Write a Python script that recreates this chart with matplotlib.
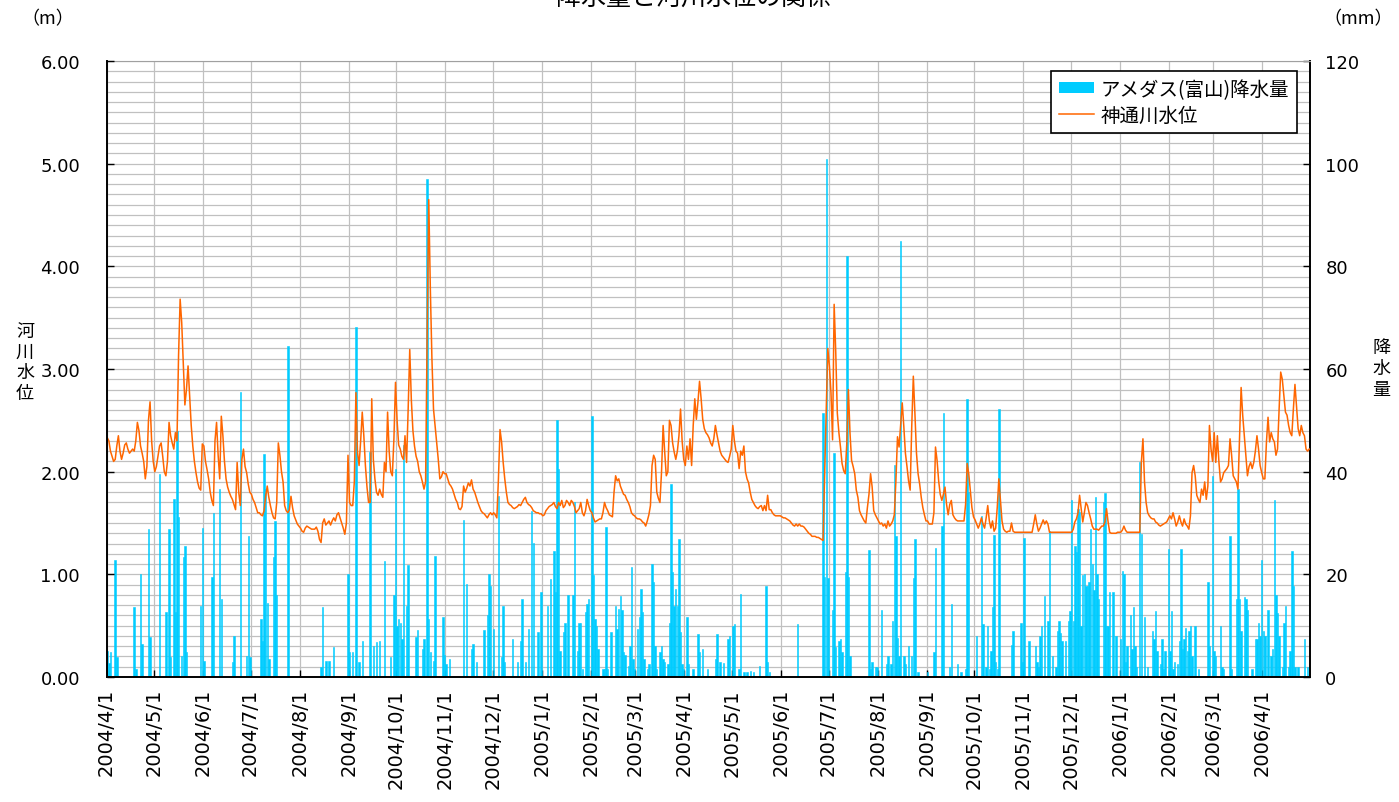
import numpy as np
import pandas as pd
import matplotlib
matplotlib.use('Agg')
import matplotlib.pyplot as plt
import matplotlib.dates as mdates
from matplotlib.patches import Patch
from matplotlib.lines import Line2D
from matplotlib.ticker import MultipleLocator

plt.rcParams['font.family'] = ['Noto Sans CJK JP', 'DejaVu Sans']

TITLE = '降水量と河川水位の関係'
RAIN_LABEL = 'アメダス(富山)降水量'
LEVEL_LABEL = '神通川水位'

START, END = '2004-04-01', '2006-04-30'

# daily water level of the Jinzu river (m), one line per month
level_2004 = [
    2.33, 2.30, 2.20, 2.15, 2.10, 2.12, 2.25, 2.35, 2.20, 2.12, 2.18, 2.26, 2.28, 2.22, 2.18, 2.20, 2.22, 2.20, 2.30, 2.48, 2.40, 2.25, 2.18, 2.10, 1.93, 2.05, 2.50, 2.68, 2.30, 2.10,
    2.00, 2.05, 2.15, 2.25, 2.28, 2.15, 2.00, 1.96, 2.10, 2.48, 2.35, 2.28, 2.22, 2.38, 2.30, 3.13, 3.68, 3.45, 3.06, 2.65, 2.80, 3.03, 2.74, 2.45, 2.25, 2.10, 1.99, 1.90, 1.84, 1.82, 2.27,
    2.25, 2.10, 2.02, 1.93, 1.80, 1.72, 1.67, 2.30, 2.48, 2.16, 1.93, 2.54, 2.35, 2.10, 1.93, 1.85, 1.80, 1.76, 1.73, 1.68, 1.63, 2.09, 1.80, 1.67, 2.12, 2.22, 2.05, 1.99, 1.88, 1.80,
    1.78, 1.73, 1.70, 1.65, 1.60, 1.60, 1.58, 1.57, 1.62, 1.76, 1.86, 1.75, 1.67, 1.60, 1.55, 1.54, 1.70, 2.28, 2.16, 2.00, 1.90, 1.67, 1.62, 1.60, 1.63, 1.76, 1.65, 1.57, 1.53, 1.49, 1.47,
    1.45, 1.42, 1.41, 1.45, 1.47, 1.46, 1.45, 1.44, 1.44, 1.44, 1.46, 1.42, 1.34, 1.31, 1.50, 1.54, 1.48, 1.50, 1.52, 1.48, 1.52, 1.55, 1.52, 1.58, 1.60, 1.55, 1.50, 1.45, 1.39, 1.50, 2.16,
    1.70, 1.67, 1.67, 1.90, 2.77, 2.19, 2.06, 2.30, 2.58, 2.35, 2.06, 1.85, 1.70, 1.70, 2.71, 2.12, 1.93, 1.80, 1.77, 1.83, 1.78, 1.75, 2.09, 2.00, 2.58, 2.20, 2.00, 1.96, 2.32, 2.87,
    2.50, 2.26, 2.22, 2.15, 2.12, 2.35, 2.09, 2.61, 3.19, 2.70, 2.40, 2.25, 2.15, 2.10, 2.00, 1.96, 1.90, 1.83, 1.90, 3.36, 4.65, 3.78, 3.10, 2.61, 2.45, 2.29, 2.12, 1.93, 1.95, 2.00, 1.98,
    1.98, 1.93, 1.88, 1.86, 1.83, 1.78, 1.73, 1.70, 1.64, 1.63, 1.66, 1.86, 1.80, 1.84, 1.89, 1.86, 1.92, 1.83, 1.80, 1.75, 1.70, 1.66, 1.62, 1.60, 1.59, 1.57, 1.55, 1.58, 1.60, 1.58,
    1.60, 1.58, 1.55, 1.93, 2.41, 2.29, 2.09, 1.93, 1.80, 1.70, 1.68, 1.67, 1.65, 1.64, 1.65, 1.66, 1.68, 1.67, 1.70, 1.73, 1.75, 1.70, 1.68, 1.67, 1.65, 1.62, 1.61, 1.60, 1.60, 1.59, 1.59,
]
level_2005 = [
    1.57, 1.58, 1.62, 1.64, 1.66, 1.67, 1.68, 1.70, 1.66, 1.64, 1.70, 1.67, 1.72, 1.65, 1.67, 1.72, 1.70, 1.67, 1.72, 1.70, 1.66, 1.60, 1.62, 1.64, 1.70, 1.60, 1.57, 1.62, 1.73, 1.67, 1.62,
    1.60, 1.55, 1.51, 1.52, 1.53, 1.54, 1.54, 1.60, 1.70, 1.65, 1.62, 1.58, 1.57, 1.56, 1.80, 1.96, 1.91, 1.93, 1.86, 1.82, 1.78, 1.77, 1.73, 1.70, 1.66, 1.60, 1.58, 1.57,
    1.55, 1.54, 1.54, 1.53, 1.51, 1.50, 1.47, 1.52, 1.58, 1.67, 2.06, 2.16, 2.12, 1.80, 1.74, 1.70, 2.00, 2.45, 2.19, 1.96, 2.00, 2.50, 2.45, 2.28, 2.19, 2.12, 2.20, 2.35, 2.61, 2.30, 2.12,
    2.06, 2.25, 2.12, 2.32, 2.06, 2.45, 2.71, 2.51, 2.68, 2.88, 2.71, 2.51, 2.42, 2.38, 2.36, 2.33, 2.28, 2.25, 2.32, 2.45, 2.36, 2.28, 2.20, 2.16, 2.14, 2.12, 2.10, 2.09, 2.15, 2.22,
    2.45, 2.30, 2.20, 2.18, 2.03, 2.20, 2.16, 2.25, 2.00, 1.93, 1.89, 1.80, 1.73, 1.70, 1.67, 1.65, 1.64, 1.66, 1.67, 1.62, 1.67, 1.62, 1.77, 1.63, 1.63, 1.60, 1.58, 1.57, 1.57, 1.57, 1.57,
    1.56, 1.55, 1.55, 1.54, 1.53, 1.52, 1.50, 1.48, 1.47, 1.49, 1.47, 1.49, 1.47, 1.47, 1.46, 1.44, 1.42, 1.40, 1.39, 1.37, 1.37, 1.37, 1.36, 1.36, 1.35, 1.34, 1.33, 1.97, 2.60, 3.20,
    3.03, 2.77, 2.31, 3.63, 3.17, 2.57, 2.38, 2.24, 2.08, 2.01, 1.98, 2.28, 2.80, 2.38, 2.11, 2.05, 1.98, 1.82, 1.75, 1.62, 1.58, 1.55, 1.52, 1.50, 1.65, 1.78, 1.98, 1.85, 1.62, 1.58, 1.55,
    1.52, 1.49, 1.50, 1.47, 1.49, 1.45, 1.52, 1.47, 1.49, 1.52, 1.58, 1.91, 2.34, 2.24, 2.45, 2.67, 2.44, 2.18, 2.05, 1.91, 1.82, 2.44, 2.93, 2.57, 2.18, 1.98, 1.88, 1.75, 1.65, 1.58, 1.52,
    1.52, 1.49, 1.49, 1.49, 1.60, 2.24, 2.11, 1.91, 1.78, 1.72, 1.78, 1.85, 1.68, 1.58, 1.68, 1.72, 1.58, 1.55, 1.53, 1.52, 1.52, 1.52, 1.52, 1.52, 1.68, 2.08, 1.98, 1.82, 1.65, 1.56,
    1.53, 1.49, 1.45, 1.49, 1.55, 1.49, 1.45, 1.55, 1.67, 1.52, 1.45, 1.52, 1.42, 1.45, 1.65, 1.93, 1.72, 1.52, 1.44, 1.42, 1.41, 1.42, 1.42, 1.50, 1.42, 1.41, 1.41, 1.41, 1.41, 1.41, 1.41,
    1.41, 1.41, 1.41, 1.41, 1.41, 1.41, 1.49, 1.58, 1.49, 1.42, 1.45, 1.49, 1.53, 1.49, 1.52, 1.49, 1.41, 1.41, 1.41, 1.41, 1.41, 1.41, 1.41, 1.41, 1.41, 1.41, 1.41, 1.41, 1.41, 1.41,
    1.41, 1.44, 1.51, 1.54, 1.60, 1.77, 1.64, 1.51, 1.60, 1.70, 1.67, 1.60, 1.54, 1.47, 1.44, 1.44, 1.44, 1.43, 1.45, 1.47, 1.47, 1.51, 1.64, 1.51, 1.41, 1.40, 1.40, 1.40, 1.40, 1.41, 1.41,
]
level_2006 = [
    1.41, 1.43, 1.47, 1.43, 1.41, 1.41, 1.41, 1.41, 1.41, 1.41, 1.41, 1.41, 1.41, 2.09, 2.32, 1.90, 1.70, 1.60, 1.57, 1.55, 1.54, 1.54, 1.51, 1.50, 1.48, 1.47, 1.48, 1.49, 1.50, 1.51, 1.54,
    1.57, 1.54, 1.60, 1.54, 1.47, 1.51, 1.57, 1.51, 1.47, 1.54, 1.49, 1.47, 1.44, 1.57, 1.99, 2.06, 1.96, 1.77, 1.73, 1.70, 1.83, 1.77, 1.90, 1.73, 1.86, 2.45, 2.22, 2.10,
    2.38, 2.09, 2.35, 2.09, 1.90, 1.93, 1.99, 2.01, 2.03, 2.06, 2.32, 2.16, 1.96, 1.93, 1.90, 1.83, 2.32, 2.82, 2.55, 2.35, 2.16, 1.96, 2.05, 2.09, 2.03, 2.09, 2.20, 2.35, 2.22, 2.06, 1.99,
    1.93, 1.93, 2.29, 2.53, 2.29, 2.38, 2.32, 2.29, 2.16, 2.22, 2.61, 2.97, 2.90, 2.74, 2.58, 2.55, 2.45, 2.38, 2.35, 2.61, 2.85, 2.64, 2.42, 2.35, 2.45, 2.38, 2.35, 2.22, 2.20, 2.22,
]

# daily precipitation at AMeDAS Toyama (mm), rainy days only
rain_2004 = [
    ('2004-04-01', 5.1), ('2004-04-02', 2.8), ('2004-04-03', 4.8), ('2004-04-06', 22.7), ('2004-04-07', 3.8),
    ('2004-04-18', 13.6), ('2004-04-19', 1.6), ('2004-04-22', 20.1), ('2004-04-23', 6.4), ('2004-04-27', 28.8), ('2004-04-28', 7.7),
    ('2004-05-04', 39.5), ('2004-05-08', 12.6), ('2004-05-10', 28.8), ('2004-05-11', 3.8), ('2004-05-13', 34.7), ('2004-05-14', 12.6),
    ('2004-05-15', 48.0), ('2004-05-16', 31.1), ('2004-05-18', 4.1), ('2004-05-19', 23.3), ('2004-05-20', 25.6), ('2004-05-21', 4.8),
    ('2004-05-30', 13.9), ('2004-05-31', 29.1),
    ('2004-06-01', 3.2), ('2004-06-06', 19.4), ('2004-06-07', 32.0), ('2004-06-11', 36.6), ('2004-06-12', 15.2), ('2004-06-19', 3.0),
    ('2004-06-20', 8.0), ('2004-06-24', 55.6), ('2004-06-28', 4.1), ('2004-06-29', 27.5), ('2004-06-30', 3.8),
    ('2004-07-07', 11.3), ('2004-07-08', 7.1), ('2004-07-09', 43.4), ('2004-07-10', 36.6), ('2004-07-11', 14.5), ('2004-07-12', 3.5),
    ('2004-07-15', 23.3), ('2004-07-16', 30.4), ('2004-07-17', 15.9), ('2004-07-24', 64.5),
    ('2004-08-14', 1.9), ('2004-08-15', 13.6), ('2004-08-17', 3.2), ('2004-08-19', 3.2), ('2004-08-22', 5.8), ('2004-08-31', 20.1),
    ('2004-09-01', 4.8), ('2004-09-03', 4.8), ('2004-09-05', 68.1), ('2004-09-07', 2.9), ('2004-09-09', 7.1), ('2004-09-14', 43.8),
    ('2004-09-16', 6.1), ('2004-09-18', 6.8), ('2004-09-20', 7.1), ('2004-09-23', 22.6), ('2004-09-27', 3.8), ('2004-09-29', 15.9),
    ('2004-09-30', 40.5),
    ('2004-10-01', 10.0), ('2004-10-02', 11.3), ('2004-10-03', 10.6), ('2004-10-04', 7.4), ('2004-10-05', 45.1), ('2004-10-07', 13.9),
    ('2004-10-08', 21.8), ('2004-10-13', 7.8), ('2004-10-14', 9.1), ('2004-10-17', 5.5), ('2004-10-18', 7.4), ('2004-10-20', 97.0),
    ('2004-10-21', 11.3), ('2004-10-22', 4.8), ('2004-10-24', 3.2), ('2004-10-25', 23.6), ('2004-10-30', 11.6), ('2004-10-31', 4.2),
    ('2004-11-01', 2.6), ('2004-11-03', 3.5), ('2004-11-12', 30.5), ('2004-11-14', 18.2), ('2004-11-17', 5.5), ('2004-11-18', 6.5),
    ('2004-11-20', 3.0), ('2004-11-25', 9.1), ('2004-11-27', 12.0), ('2004-11-28', 20.1), ('2004-11-29', 17.8),
    ('2004-12-01', 9.4), ('2004-12-04', 35.3), ('2004-12-06', 3.9), ('2004-12-07', 13.9), ('2004-12-08', 3.0), ('2004-12-13', 7.4),
    ('2004-12-16', 3.0), ('2004-12-18', 7.1), ('2004-12-19', 15.2), ('2004-12-21', 3.0), ('2004-12-23', 9.4), ('2004-12-25', 32.4),
    ('2004-12-26', 26.2), ('2004-12-29', 8.7), ('2004-12-31', 16.5),
]
rain_2005 = [
    ('2005-01-04', 13.9), ('2005-01-06', 19.1), ('2005-01-08', 24.6), ('2005-01-09', 16.5), ('2005-01-10', 50.0), ('2005-01-11', 40.5),
    ('2005-01-12', 5.0), ('2005-01-14', 8.7), ('2005-01-15', 10.6), ('2005-01-17', 15.9), ('2005-01-20', 15.9), ('2005-01-21', 34.0),
    ('2005-01-23', 5.0), ('2005-01-24', 10.6), ('2005-01-25', 10.6), ('2005-01-26', 1.6), ('2005-01-28', 12.6), ('2005-01-29', 14.2),
    ('2005-01-30', 15.2),
    ('2005-02-01', 50.9), ('2005-02-02', 19.8), ('2005-02-03', 11.3), ('2005-02-04', 10.0), ('2005-02-05', 5.5), ('2005-02-08', 1.6),
    ('2005-02-09', 1.6), ('2005-02-10', 29.2), ('2005-02-11', 1.6), ('2005-02-13', 8.7), ('2005-02-16', 13.9), ('2005-02-17', 9.4),
    ('2005-02-18', 13.2), ('2005-02-19', 15.8), ('2005-02-20', 13.0), ('2005-02-21', 4.8), ('2005-02-22', 4.2), ('2005-02-24', 2.2),
    ('2005-02-25', 6.1), ('2005-02-26', 21.4), ('2005-02-27', 3.5), ('2005-02-28', 1.6),
    ('2005-03-02', 9.4), ('2005-03-03', 11.6), ('2005-03-04', 17.1), ('2005-03-05', 12.6), ('2005-03-06', 3.5), ('2005-03-08', 1.6),
    ('2005-03-09', 2.6), ('2005-03-11', 22.1), ('2005-03-12', 18.5), ('2005-03-13', 6.1), ('2005-03-14', 1.6), ('2005-03-16', 4.8),
    ('2005-03-17', 6.1), ('2005-03-18', 3.5), ('2005-03-19', 3.0), ('2005-03-21', 2.6), ('2005-03-22', 10.6), ('2005-03-23', 37.6),
    ('2005-03-24', 20.4), ('2005-03-25', 13.9), ('2005-03-26', 17.1), ('2005-03-27', 13.9), ('2005-03-28', 26.8), ('2005-03-29', 8.7),
    ('2005-03-30', 2.6), ('2005-03-31', 1.6),
    ('2005-04-02', 11.6), ('2005-04-03', 2.6), ('2005-04-06', 1.6), ('2005-04-09', 8.4), ('2005-04-10', 4.8), ('2005-04-12', 5.5),
    ('2005-04-15', 1.6), ('2005-04-20', 3.5), ('2005-04-21', 8.4), ('2005-04-23', 3.0), ('2005-04-25', 2.8), ('2005-04-28', 7.4),
    ('2005-04-29', 8.0),
    ('2005-05-01', 10.0), ('2005-05-02', 10.3), ('2005-05-05', 1.6), ('2005-05-06', 16.1), ('2005-05-08', 1.0), ('2005-05-10', 1.0),
    ('2005-05-12', 1.2), ('2005-05-14', 1.0), ('2005-05-18', 2.2), ('2005-05-22', 17.8), ('2005-05-23', 3.0), ('2005-05-24', 1.0),
    ('2005-06-11', 10.3), ('2005-06-27', 51.5), ('2005-06-28', 19.5), ('2005-06-29', 100.9), ('2005-06-30', 19.2),
    ('2005-07-03', 13.0), ('2005-07-04', 43.6), ('2005-07-05', 5.8), ('2005-07-07', 7.1), ('2005-07-08', 7.4), ('2005-07-09', 4.8),
    ('2005-07-11', 20.5), ('2005-07-12', 82.1), ('2005-07-13', 19.5), ('2005-07-14', 4.1), ('2005-07-26', 24.8), ('2005-07-27', 1.5),
    ('2005-07-28', 3.0), ('2005-07-30', 2.0), ('2005-07-31', 2.0),
    ('2005-08-03', 13.0), ('2005-08-06', 2.5), ('2005-08-07', 4.0), ('2005-08-09', 2.5), ('2005-08-10', 11.0), ('2005-08-11', 41.3),
    ('2005-08-12', 27.4), ('2005-08-13', 7.6), ('2005-08-14', 4.0), ('2005-08-15', 85.0), ('2005-08-17', 4.0), ('2005-08-18', 2.5),
    ('2005-08-20', 6.0), ('2005-08-22', 4.0), ('2005-08-23', 19.2), ('2005-08-24', 26.8), ('2005-08-26', 1.0),
    ('2005-09-01', 1.0), ('2005-09-05', 4.9), ('2005-09-06', 25.1), ('2005-09-10', 29.4), ('2005-09-11', 51.5), ('2005-09-15', 2.0),
    ('2005-09-16', 14.3), ('2005-09-20', 2.5), ('2005-09-22', 1.0), ('2005-09-25', 1.5), ('2005-09-26', 54.1), ('2005-09-27', 36.0),
    ('2005-10-02', 8.0), ('2005-10-05', 31.4), ('2005-10-06', 10.3), ('2005-10-08', 2.0), ('2005-10-09', 10.0), ('2005-10-10', 1.5),
    ('2005-10-11', 5.0), ('2005-10-12', 13.6), ('2005-10-13', 27.7), ('2005-10-14', 3.0), ('2005-10-15', 1.5), ('2005-10-16', 52.2),
    ('2005-10-24', 6.3), ('2005-10-25', 9.0), ('2005-10-30', 10.6), ('2005-10-31', 3.0),
    ('2005-11-01', 27.1), ('2005-11-04', 7.0), ('2005-11-08', 6.0), ('2005-11-09', 3.0), ('2005-11-10', 2.0), ('2005-11-11', 8.0),
    ('2005-11-12', 9.9), ('2005-11-14', 15.8), ('2005-11-16', 11.0), ('2005-11-17', 28.4), ('2005-11-19', 4.0), ('2005-11-21', 2.0),
    ('2005-11-22', 9.0), ('2005-11-23', 11.0), ('2005-11-24', 8.5), ('2005-11-25', 7.1), ('2005-11-27', 7.0), ('2005-11-29', 11.0),
    ('2005-11-30', 12.9),
    ('2005-12-01', 34.4), ('2005-12-02', 11.0), ('2005-12-03', 25.6), ('2005-12-04', 24.3), ('2005-12-05', 32.7), ('2005-12-06', 32.1),
    ('2005-12-07', 10.0), ('2005-12-08', 19.8), ('2005-12-09', 20.1), ('2005-12-10', 17.8), ('2005-12-11', 17.8), ('2005-12-12', 18.5),
    ('2005-12-13', 28.8), ('2005-12-14', 22.0), ('2005-12-15', 17.0), ('2005-12-16', 35.0), ('2005-12-17', 20.0), ('2005-12-18', 15.2),
    ('2005-12-21', 34.0), ('2005-12-22', 35.9), ('2005-12-23', 10.0), ('2005-12-24', 10.0), ('2005-12-25', 16.5), ('2005-12-27', 16.5),
    ('2005-12-29', 8.0),
]
rain_2006 = [
    ('2006-01-01', 7.4), ('2006-01-02', 20.7), ('2006-01-03', 20.0), ('2006-01-04', 3.0), ('2006-01-05', 6.0), ('2006-01-07', 12.0),
    ('2006-01-08', 5.5), ('2006-01-09', 13.6), ('2006-01-10', 6.0), ('2006-01-11', 2.0), ('2006-01-13', 41.8), ('2006-01-14', 27.9),
    ('2006-01-16', 11.6), ('2006-01-18', 2.0), ('2006-01-21', 9.0), ('2006-01-22', 7.4), ('2006-01-23', 12.9), ('2006-01-24', 5.0),
    ('2006-01-26', 2.5), ('2006-01-27', 7.4), ('2006-01-28', 1.5), ('2006-01-29', 5.0), ('2006-01-31', 24.9),
    ('2006-02-01', 5.0), ('2006-02-02', 12.9), ('2006-02-03', 1.5), ('2006-02-04', 3.0), ('2006-02-06', 2.5), ('2006-02-07', 7.0),
    ('2006-02-08', 24.9), ('2006-02-09', 5.5), ('2006-02-10', 7.4), ('2006-02-11', 9.6), ('2006-02-12', 5.0), ('2006-02-13', 9.0),
    ('2006-02-14', 10.0), ('2006-02-15', 4.0), ('2006-02-17', 10.0), ('2006-02-19', 1.5), ('2006-02-25', 18.5), ('2006-02-26', 6.0),
    ('2006-02-28', 39.2),
    ('2006-03-01', 5.0), ('2006-03-02', 4.0), ('2006-03-05', 10.0), ('2006-03-06', 2.0), ('2006-03-07', 1.5), ('2006-03-11', 27.5),
    ('2006-03-12', 1.5), ('2006-03-15', 15.2), ('2006-03-16', 36.6), ('2006-03-17', 15.2), ('2006-03-18', 9.0), ('2006-03-20', 15.5),
    ('2006-03-21', 15.2), ('2006-03-22', 13.0), ('2006-03-25', 1.5), ('2006-03-27', 7.4), ('2006-03-28', 7.4), ('2006-03-29', 10.5),
    ('2006-03-30', 8.0), ('2006-03-31', 22.7),
    ('2006-04-01', 9.0), ('2006-04-02', 8.0), ('2006-04-04', 13.0), ('2006-04-06', 4.0), ('2006-04-07', 5.5), ('2006-04-08', 34.4),
    ('2006-04-09', 16.0), ('2006-04-10', 12.5), ('2006-04-11', 8.0), ('2006-04-13', 2.0), ('2006-04-14', 10.6), ('2006-04-15', 13.9),
    ('2006-04-17', 2.0), ('2006-04-18', 5.0), ('2006-04-19', 24.6), ('2006-04-20', 17.8), ('2006-04-21', 2.0), ('2006-04-23', 2.0),
    ('2006-04-27', 7.4), ('2006-04-29', 2.0),
]

days = pd.date_range(START, END, freq='D')
level = np.array(level_2004 + level_2005 + level_2006)
assert len(level) == len(days), len(level)

rain = pd.Series(0.0, index=days)
for d, v in rain_2004 + rain_2005 + rain_2006:
    rain[pd.Timestamp(d)] = v

# Excel-style category axis: each day occupies one slot, marks sit in its middle
x = mdates.date2num(days) + 0.5
months = pd.date_range(START, END, freq='MS')
month_labels = [f'{m.year}/{m.month}/{m.day}' for m in months]

W, H = 1399, 803
fig = plt.figure(figsize=(W / 100, H / 100), dpi=100)
L, R, T, B = 106.5, 1310, 62, 678
ax = fig.add_axes([L / W, 1 - B / H, (R - L) / W, (B - T) / H])

# rain bars (right scale) drawn first, on top of the grid
ax.bar(x, rain.values, width=0.9, color='#00CCFF', edgecolor='#00CCFF',
       linewidth=0.4, zorder=2)
ax.set_ylim(0, 120)
ax.set_xlim(mdates.date2num(pd.Timestamp(START)), mdates.date2num(pd.Timestamp('2006-05-01')))
ax.yaxis.set_major_locator(MultipleLocator(20))
ax.yaxis.set_minor_locator(MultipleLocator(2))
ax.set_xticks(mdates.date2num(months))
ax.set_xticklabels(month_labels, rotation=90, family='DejaVu Sans', fontsize=14)
ax.tick_params(axis='x', direction='in', length=5, width=1, pad=8)
ax.grid(True, which='both', axis='y', color='#c0c0c0', lw=0.9)
ax.grid(True, which='major', axis='x', color='#c0c0c0', lw=0.9)
ax.set_axisbelow(True)

# river level line (left scale) on top
ax2 = ax.twinx()
ax2.plot(x, level, color='#FF6600', lw=1.1)
ax2.set_ylim(0, 6)
ax2.yaxis.tick_left()
ax2.set_yticks(range(0, 7))
ax2.set_yticklabels([f'{v:.2f}' for v in range(0, 7)], family='DejaVu Sans')
ax2.tick_params(axis='y', direction='in', length=5, width=1, labelsize=13, pad=19)

# twinx moved the rain ticks to the left; put them back on the right
ax.yaxis.tick_right()
ax.set_yticks(range(0, 121, 20))
ax.set_yticklabels([f'{v:d}' for v in range(0, 121, 20)], family='DejaVu Sans')
ax.tick_params(axis='y', which='minor', length=0, left=False, right=False)
ax.tick_params(axis='y', which='major', direction='in', length=5, width=1,
               labelsize=13, pad=11, color='black', left=False, right=True)

for a in (ax, ax2):
    for s in a.spines.values():
        s.set_visible(False)
ax.spines['bottom'].set_visible(True)
ax.spines['right'].set_visible(True)
ax.spines['top'].set_visible(True)
ax.spines['top'].set_color('#a0a0a0')
ax2.spines['left'].set_visible(True)
for s in ('bottom', 'right'):
    ax.spines[s].set_color('black')
    ax.spines[s].set_linewidth(1.4)
ax2.spines['left'].set_color('black')
ax2.spines['left'].set_linewidth(1.4)

handles = [Patch(facecolor='#00CCFF', edgecolor='none'),
           Line2D([], [], color='#FF6600', lw=1.1)]
leg = ax2.legend(handles, [RAIN_LABEL, LEVEL_LABEL], loc='upper right',
                 bbox_to_anchor=(0.989, 0.984), borderaxespad=0, fontsize=14,
                 fancybox=False, framealpha=1, edgecolor='black',
                 handlelength=1.8, handleheight=0.5, handletextpad=0.35,
                 labelspacing=0.25, borderpad=0.4)
leg.get_frame().set_linewidth(1.2)

# the title sits mostly above the canvas, as in the source image
fig.text(693 / W, 1 + 2 / H, TITLE, ha='center', va='center', fontsize=18)
fig.text(48 / W, 1 - 19 / H, '（m）', ha='center', va='center', fontsize=13)
fig.text(1358 / W, 1 - 19 / H, '（mm）', ha='center', va='center', fontsize=13)
fig.text(25 / W, 1 - 363 / H, '河\n川\n水\n位', ha='center', va='center',
         fontsize=13, linespacing=1.2)
fig.text(1381 / W, 1 - 369 / H, '降\n水\n量', ha='center', va='center',
         fontsize=13, linespacing=1.2)

fig.savefig('out.png', dpi=100)
